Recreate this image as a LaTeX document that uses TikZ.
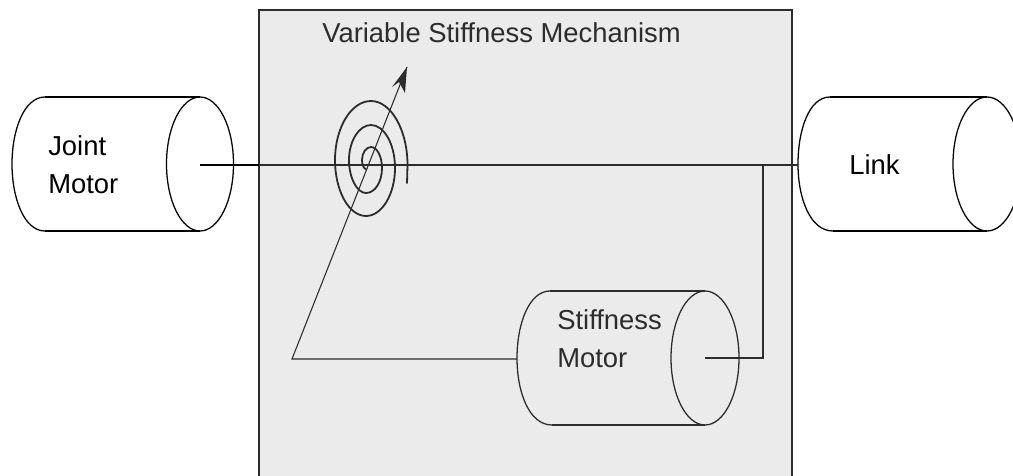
\documentclass[tikz,border=0pt]{standalone}
\usepackage{fontspec}
\setmainfont{Liberation Sans}
\usetikzlibrary{arrows.meta}
\definecolor{panel}{HTML}{EBEBEB}
\definecolor{inkin}{HTML}{2C2C2C}
\tikzset{
  cyl/.style={draw=black,line width=0.95pt},
  cylin/.style={draw=inkin,line width=0.95pt},
  lbl/.style={font=\fontsize{20.55pt}{28.8pt}\selectfont,align=left,text=black,inner sep=0pt,anchor=west},
  lblin/.style={lbl,text=inkin},
  wire/.style={draw=inkin,line width=1pt}
}
\begin{document}
\begin{tikzpicture}[x=0.75pt,y=-0.75pt]
\useasboundingbox (0,0) rectangle (1013,475);
\fill[white] (0,0) rectangle (1013,475);
\begin{scope}
\clip (0,0) rectangle (1013,475);
\draw[fill=panel,draw=inkin,line width=0.95pt] (259,10) rectangle (792,490);
% joint motor
\draw[cyl] (45,97) -- (200,97) (45,231) -- (200,231);
\draw[cyl] (45,97) .. controls (24,97) and (12,130) .. (12,164) .. controls (12,198) and (24,231) .. (45,231);
\draw[cyl] (200,164) ellipse [x radius=33.5,y radius=67];
% link
\draw[cyl] (830,97) -- (987,97) (833,231) -- (987,231);
\draw[cyl] (830,97) .. controls (809,97) and (798,130) .. (798,164) .. controls (798,198) and (810,231) .. (833,231);
\draw[cyl] (987,164) ellipse [x radius=34,y radius=67];
% stiffness motor
\draw[cylin] (550,291) -- (705,291) (552,425) -- (705,425);
\draw[cylin] (550,291) .. controls (529,291) and (517,324) .. (517,358) .. controls (517,392) and (529,425) .. (552,425);
\draw[cylin] (705,358) ellipse [x radius=34,y radius=67];
% spiral
\draw[draw=inkin,line width=1.35pt,line cap=round] (366,169)
  .. controls (364,169) and (362,165) .. (362,160)
  .. controls (362,153) and (366,147) .. (371,147)
  .. controls (377,147) and (382,156.5) .. (382,168)
  .. controls (382,182) and (375,193) .. (366,193)
  .. controls (357,193) and (349,178) .. (349,160)
  .. controls (349,141) and (359,125) .. (371,125)
  .. controls (384,125) and (395,144) .. (395,168)
  .. controls (395,194) and (382,216) .. (366,216)
  .. controls (349,216) and (335,191) .. (335,160)
  .. controls (335,128) and (351,101) .. (371,101)
  .. controls (391,101) and (407.5,130) .. (407.5,165)
  -- (407,183);
\end{scope}
\coordinate (jm) at (200,165);
\coordinate (lk) at (798,165);
\coordinate (tee) at (763,165);
\coordinate (sm) at (705,358);
\coordinate (corner) at (763,358);
\coordinate (pivot) at (292,359);
\coordinate (smleft) at (517,359);
\coordinate (tip) at (407,67);
\coordinate (panelL) at (259,165);
\draw[black,line width=1pt] (jm) -- (panelL);
\draw[wire] (panelL) -- (lk);
\draw[wire] (tee) -- (corner) -- (sm);
\draw[draw=inkin,line width=0.8pt] (smleft) -- (pivot) -- (tip);
\fill[inkin] (tip) -- (392,87) -- (399,82) -- (405,93) -- cycle;
\node[lbl] (t0) at (48,165) {Joint\\Motor};
\node[lbl] (t1) at (849,165) {Link};
\node[lblin] (t2) at (557,339) {Stiffness\\Motor};
\node[lblin] (t3) at (322,32.5) {Variable Stiffness Mechanism};
\end{tikzpicture}
\end{document}
